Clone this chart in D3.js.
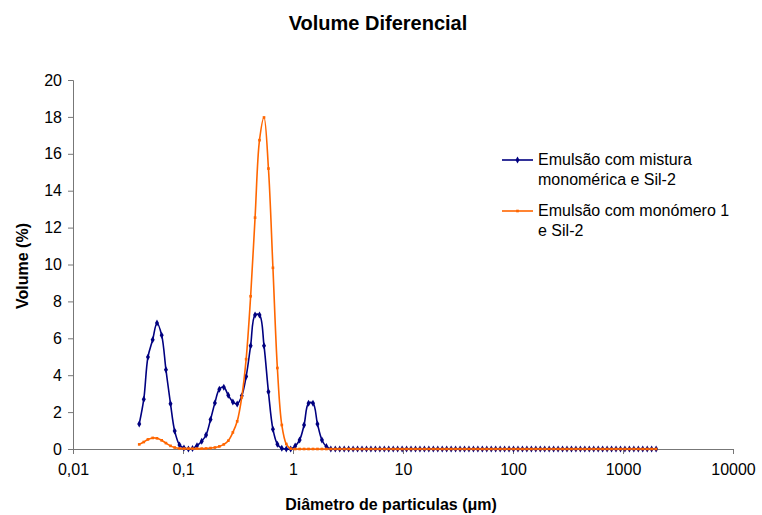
<!DOCTYPE html>
<html>
<head>
<meta charset="utf-8">
<script src="https://cdn.jsdelivr.net/npm/d3@7"></script>
<style>
  body { margin: 0; background: #fff; }
  text { font-family: "Liberation Sans", Arial, sans-serif; }
</style>
</head>
<body>
<script>
// Diámetros de los canales (µm)
const diametros = [
  0.04, 0.044, 0.048, 0.053, 0.058, 0.064, 0.070, 0.077, 0.084, 0.093,
  0.102, 0.112, 0.122, 0.134, 0.148, 0.162, 0.178, 0.195, 0.214, 0.235,
  0.258, 0.284, 0.311, 0.342, 0.375, 0.412, 0.452, 0.496, 0.545, 0.598,
  0.657, 0.721, 0.791, 0.869, 0.953, 1.047, 1.149, 1.261, 1.385, 1.520,
  1.669, 1.832, 2.011, 2.208, 2.424, 2.660, 2.920, 3.206, 3.519, 3.863,
  4.241, 4.656, 5.111, 5.611, 6.159, 6.761, 7.422, 8.148, 8.944, 9.819,
  10.78, 11.83, 12.99, 14.26, 15.65, 17.18, 18.86, 20.71, 22.73, 24.95,
  27.39, 30.07, 33.01, 36.24, 39.78, 43.67, 47.94, 52.62, 57.77, 63.41,
  69.61, 76.42, 83.89, 92.09, 101.1, 111.0, 121.8, 133.7, 146.8, 161.2,
  176.9, 194.2, 213.2, 234.1, 256.9, 282.1, 309.6, 339.9, 373.1, 409.6,
  449.7, 493.6, 541.9, 594.9, 653.0, 716.9, 786.9, 863.9, 948.3, 1041,
  1143, 1255, 1377, 1512, 1660, 1822, 2000
];

// Emulsão com mistura monomérica e Sil-2
const volumenMistura = [
  1.36, 2.7, 4.98, 5.92, 6.83, 6.16, 4.29, 2.45, 0.98, 0.22,
  0.05, 0, 0.03, 0.18, 0.42, 0.76, 1.6, 2.5, 3.24, 3.35,
  2.91, 2.55, 2.44, 2.88, 3.93, 5.6, 7.26, 7.26, 5.6, 3.1,
  1.07, 0.26, 0.04, 0, 0, 0.16, 0.49, 1.3, 2.48, 2.48,
  1.36, 0.49, 0.13, 0, 0, 0, 0, 0, 0, 0,
  0, 0, 0, 0, 0, 0, 0, 0, 0, 0,
  0, 0, 0, 0, 0, 0, 0, 0, 0, 0,
  0, 0, 0, 0, 0, 0, 0, 0, 0, 0,
  0, 0, 0, 0, 0, 0, 0, 0, 0, 0,
  0, 0, 0, 0, 0, 0, 0, 0, 0, 0,
  0, 0, 0, 0, 0, 0, 0, 0, 0, 0,
  0, 0, 0, 0, 0, 0, 0
];

// Emulsão com monómero 1 e Sil-2
const volumenMonomero = [
  0.25, 0.38, 0.52, 0.6, 0.58, 0.47, 0.32, 0.17, 0.08, 0.03,
  0.02, 0.02, 0.02, 0.02, 0.02, 0.03, 0.05, 0.08, 0.14, 0.25,
  0.45, 0.9, 1.5, 2.8, 4.87, 8.28, 12.54, 16.74, 17.97, 15.2,
  9.82, 4.39, 1.3, 0.27, 0.02, 0, 0, 0, 0, 0,
  0, 0, 0, 0, 0, 0, 0, 0, 0, 0,
  0, 0, 0, 0, 0, 0, 0, 0, 0, 0,
  0, 0, 0, 0, 0, 0, 0, 0, 0, 0,
  0, 0, 0, 0, 0, 0, 0, 0, 0, 0,
  0, 0, 0, 0, 0, 0, 0, 0, 0, 0,
  0, 0, 0, 0, 0, 0, 0, 0, 0, 0,
  0, 0, 0, 0, 0, 0, 0, 0, 0, 0,
  0, 0, 0, 0, 0, 0, 0
];

const ticksX = [0.01, 0.1, 1, 10, 100, 1000, 10000];
const etiquetasX = ["0,01", "0,1", "1", "10", "100", "1000", "10000"];
const ticksY = [0, 2, 4, 6, 8, 10, 12, 14, 16, 18, 20];

const series = [
  { nombre: ["Emulsão com mistura", "monomérica e Sil-2"], valores: volumenMistura, color: "#000080", marca: d3.symbolDiamond, tam: 14 },
  { nombre: ["Emulsão com monómero 1", "e Sil-2"], valores: volumenMonomero, color: "#FF6600", marca: d3.symbolSquare, tam: 7 },
];

const WIDTH = 762;
const HEIGHT = 515;
const MARGIN = { top: 80, bottom: 66, left: 73, right: 29 };

const svg = d3.select("body")
  .append("svg")
  .attr("width", WIDTH)
  .attr("height", HEIGHT);

const escalaX = d3.scaleLog()
  .domain([0.01, 10000])
  .range([MARGIN.left, WIDTH - MARGIN.right]);

const escalaY = d3.scaleLinear()
  .domain([0, 20])
  .range([HEIGHT - MARGIN.bottom, MARGIN.top]);

// Título
svg.append("text")
  .attr("x", 378)
  .attr("y", 30)
  .attr("text-anchor", "middle")
  .attr("font-size", 20)
  .attr("font-weight", "bold")
  .text("Volume Diferencial");

// Eje Y
const ejeY = svg.append("g")
  .attr("transform", `translate(${MARGIN.left},0)`)
  .call(d3.axisLeft(escalaY).tickValues(ticksY).tickSize(5).tickPadding(6));
ejeY.select(".domain").attr("stroke", "#777");
ejeY.selectAll("line").attr("stroke", "#777");
ejeY.selectAll("text").attr("font-size", 16).attr("fill", "#000")
  .attr("font-family", "Liberation Sans, Arial, sans-serif");

// Eje X
const ejeX = svg.append("g")
  .attr("transform", `translate(0,${HEIGHT - MARGIN.bottom})`)
  .call(d3.axisBottom(escalaX).tickValues(ticksX).tickSize(5).tickPadding(10)
    .tickFormat((d, i) => etiquetasX[i]));
ejeX.select(".domain").attr("stroke", "#777");
ejeX.selectAll("line").attr("stroke", "#777");
ejeX.selectAll("text").attr("font-size", 16).attr("fill", "#000")
  .attr("font-family", "Liberation Sans, Arial, sans-serif");

// Títulos de los ejes
svg.append("text")
  .attr("x", 391)
  .attr("y", 510)
  .attr("text-anchor", "middle")
  .attr("font-size", 16)
  .attr("font-weight", "bold")
  .text("Diâmetro de particulas (μm)");

svg.append("text")
  .attr("transform", "translate(28,266) rotate(-90)")
  .attr("text-anchor", "middle")
  .attr("font-size", 16)
  .attr("font-weight", "bold")
  .text("Volume (%)");

// Líneas suavizadas y marcadores
const linea = d3.line()
  .x((d) => escalaX(d[0]))
  .y((d) => escalaY(d[1]))
  .curve(d3.curveCatmullRom.alpha(0.5));

series.forEach((s) => {
  const puntos = diametros.map((d, i) => [d, s.valores[i]]);
  svg.append("path")
    .datum(puntos)
    .attr("fill", "none")
    .attr("stroke", s.color)
    .attr("stroke-width", 1.6)
    .attr("d", linea);

  svg.append("g")
    .selectAll("path")
    .data(puntos)
    .join("path")
    .attr("transform", (d) => `translate(${escalaX(d[0])},${escalaY(d[1])})`)
    .attr("d", d3.symbol(s.marca, s.tam))
    .attr("fill", s.color);
});

// Leyenda
const leyenda = svg.append("g");
const posLeyenda = [160, 211];
series.forEach((s, i) => {
  const y = posLeyenda[i];
  leyenda.append("line")
    .attr("x1", 502).attr("x2", 533)
    .attr("y1", y).attr("y2", y)
    .attr("stroke", s.color)
    .attr("stroke-width", 1.6);
  leyenda.append("path")
    .attr("transform", `translate(517.5,${y})`)
    .attr("d", d3.symbol(s.marca, s.tam))
    .attr("fill", s.color);
  s.nombre.forEach((t, j) => {
    leyenda.append("text")
      .attr("x", 538)
      .attr("y", y + 5 + j * 20)
      .attr("font-size", 16)
      .text(t);
  });
});
</script>
</body>
</html>
